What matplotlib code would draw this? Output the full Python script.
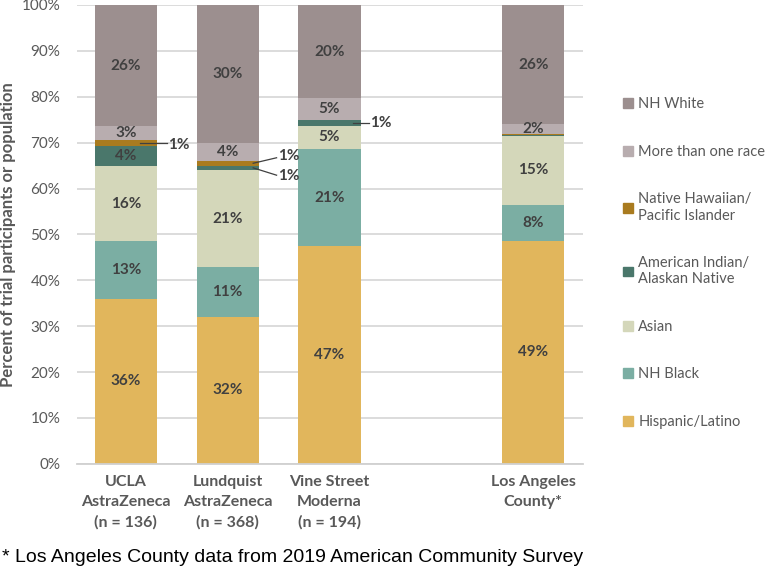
import numpy as np
import matplotlib.pyplot as plt
from matplotlib.patches import Patch

# bars (percent of each group)
groups = ["UCLA\nAstraZeneca\n(n = 136)", "Lundquist\nAstraZeneca\n(n = 368)",
          "Vine Street\nModerna\n(n = 194)", "Los Angeles\nCounty*"]
hispanic = [36.0, 32.0, 47.4, 48.6]
nh_black = [12.6, 10.8, 21.2, 7.9]
asian = [16.2, 21.2, 5.1, 14.9]
aian = [4.4, 1.0, 1.3, 0.2]
nhpi = [1.4, 1.0, 0.0, 0.3]
multi = [3.0, 3.9, 4.7, 2.1]
nh_white = [26.4, 30.1, 20.3, 26.0]

series = [
    ("hisp", "Hispanic/Latino", hispanic, "#E1B65C"),
    ("black", "NH Black", nh_black, "#7BAEA3"),
    ("asian", "Asian", asian, "#D4D7BA"),
    ("aian", "American Indian/\nAlaskan Native", aian, "#4A776B"),
    ("nhpi", "Native Hawaiian/\nPacific Islander", nhpi, "#A97B1F"),
    ("multi", "More than one race", multi, "#B8ADAF"),
    ("white", "NH White", nh_white, "#9C8F8F"),
]

# small segments labelled outside: bar, series, line x0, x1, line dy, text dy
callouts = [
    (0, "nhpi", 0.14, 0.40, 0.0, -0.5),
    (1, "nhpi", 0.25, 0.48, 1.2, 1.5),
    (1, "aian", 0.25, 0.48, -1.6, -1.8),
    (2, "aian", 0.23, 0.39, 0.0, 0.0),
]

font = "Lato"
lab_col = "#404040"
tick_col = "#595959"

fig = plt.figure(figsize=(7.75, 5.72), dpi=100)
ax = fig.add_axes([0.0994, 0.189, 0.6529, 0.8024])

x = np.array([0, 1, 2, 4])
bottom = np.zeros(len(x))
mids = {}
handles = []
for key, name, vals, color in series:
    vals = np.array(vals)
    ax.bar(x, vals, 0.61, bottom=bottom, color=color, linewidth=0, zorder=2)
    mids[key] = bottom + vals / 2
    for xi, v, b in zip(x, vals, bottom):
        if v >= 2:
            ax.text(xi, b + v / 2, f"{v:.0f}%", ha="center", va="center",
                    fontsize=11, fontweight="bold", color=lab_col, family=font, zorder=3)
    bottom += vals
    handles.append(Patch(color=color, label=name))

vals_by_key = {k: v for k, _, v, _ in series}
for i, key, x0, x1, dy, ty in callouts:
    ym = mids[key][i]
    ax.plot([x[i] + x0, x[i] + x1], [ym, ym + dy], color=lab_col, lw=0.9, zorder=4)
    ax.text(x[i] + x1 + 0.01, ym + ty, f"{vals_by_key[key][i]:.0f}%", ha="left", va="center",
            fontsize=11, fontweight="bold", color=lab_col, family=font, zorder=4)

ax.set_xlim(-0.48, 4.49)
ax.set_ylim(0, 100)
ax.set_yticks(np.arange(0, 101, 10))
ax.set_yticklabels([f"{t}%" for t in range(0, 101, 10)], family=font, fontsize=11, color=tick_col)
ax.set_xticks(x)
ax.set_xticklabels(groups, family=font, fontsize=11.5, fontweight="bold", color=tick_col,
                   linespacing=1.55)
ax.tick_params(axis="both", length=0)
ax.tick_params(axis="y", pad=12)
ax.tick_params(axis="x", pad=8)
ax.grid(axis="y", color="#D9D9D9", lw=1.3, zorder=0)
for s in ["top", "right", "left"]:
    ax.spines[s].set_visible(False)
ax.spines["bottom"].set_color("#D0D0D0")
ax.spines["bottom"].set_linewidth(1.3)

ax.set_ylabel("Percent of trial participants or population", family=font, fontsize=12,
              fontweight="bold", color=tick_col)
ax.yaxis.set_label_coords(-0.12, 0.5)

fig.legend(handles=handles[::-1], loc="center left", bbox_to_anchor=(0.804, 0.54),
           frameon=False, borderpad=0, borderaxespad=0, handlelength=0.65, handleheight=0.65,
           handletextpad=0.4, labelspacing=2.3, prop={"family": font, "size": 10.5},
           labelcolor=tick_col)

fig.text(0.003, 0.026, "* Los Angeles County data from 2019 American Community Survey",
         family="Liberation Sans", fontsize=14, color="black", va="center", ha="left")

fig.savefig("out.png", dpi=100)
